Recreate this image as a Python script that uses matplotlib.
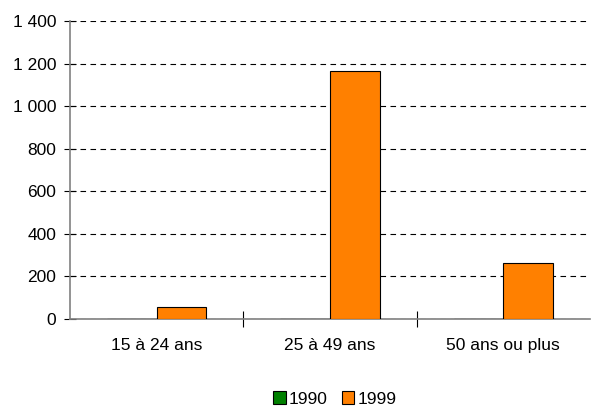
import matplotlib
matplotlib.use("Agg")
import matplotlib.pyplot as plt
import numpy as np
from matplotlib.ticker import FuncFormatter, FixedLocator

plt.rcParams['font.family'] = ['Liberation Sans', 'DejaVu Sans']

categories = ["15 à 24 ans", "25 à 49 ans", "50 ans ou plus"]
series_names = ["1990", "1999"]
values_1990 = [0, 0, 0]
values_1999 = [58, 1165, 262]
colors = ["#008000", "#FF8000"]

FS = 12.5

fig = plt.figure(figsize=(5.91, 4.07), dpi=100)
ax = fig.add_axes([0.1184, 0.2162, 0.880, 0.7322])

x = np.arange(len(categories))
w = 0.287
ax.bar(x - w / 2, values_1990, w, color=colors[0], edgecolor="black", linewidth=0.8, label=series_names[0], zorder=3)
ax.bar(x + w / 2, values_1999, w, color=colors[1], edgecolor="black", linewidth=0.8, label=series_names[1], zorder=3)

ax.set_xlim(-0.5, len(categories) - 0.5)
ax.set_ylim(0, 1400)
ax.set_yticks(np.arange(0, 1401, 200))
ax.yaxis.set_major_formatter(FuncFormatter(lambda v, p: f"{int(v):,}".replace(",", " ")))
ax.yaxis.grid(True, linestyle=(0, (5, 4)), color="black", linewidth=0.8, zorder=0)

ax.xaxis.set_major_locator(FixedLocator([0.5, 1.5]))
ax.set_xticklabels([], minor=False)
ax.set_xticks(x, minor=True)
ax.set_xticklabels(categories, minor=True)
ax.tick_params(axis="x", which="major", direction="inout", length=12, width=0.8, color="black")
ax.tick_params(axis="x", which="minor", length=0, labelsize=FS, pad=14)
ax.tick_params(axis="y", direction="inout", length=8, width=0.8, color="black", labelsize=FS, pad=6)

for s in ["top", "right"]:
    ax.spines[s].set_visible(False)
for s in ["left", "bottom"]:
    ax.spines[s].set_color("#808080")
    ax.spines[s].set_linewidth(1.2)

leg = fig.legend(loc="center", bbox_to_anchor=(335 / 591, 1 - 399 / 407), ncol=2, frameon=False,
                 fontsize=FS, handlelength=0.7, handleheight=0.7, handletextpad=0.2,
                 columnspacing=0.8, borderpad=0)

fig.savefig("out.png", dpi=100)
